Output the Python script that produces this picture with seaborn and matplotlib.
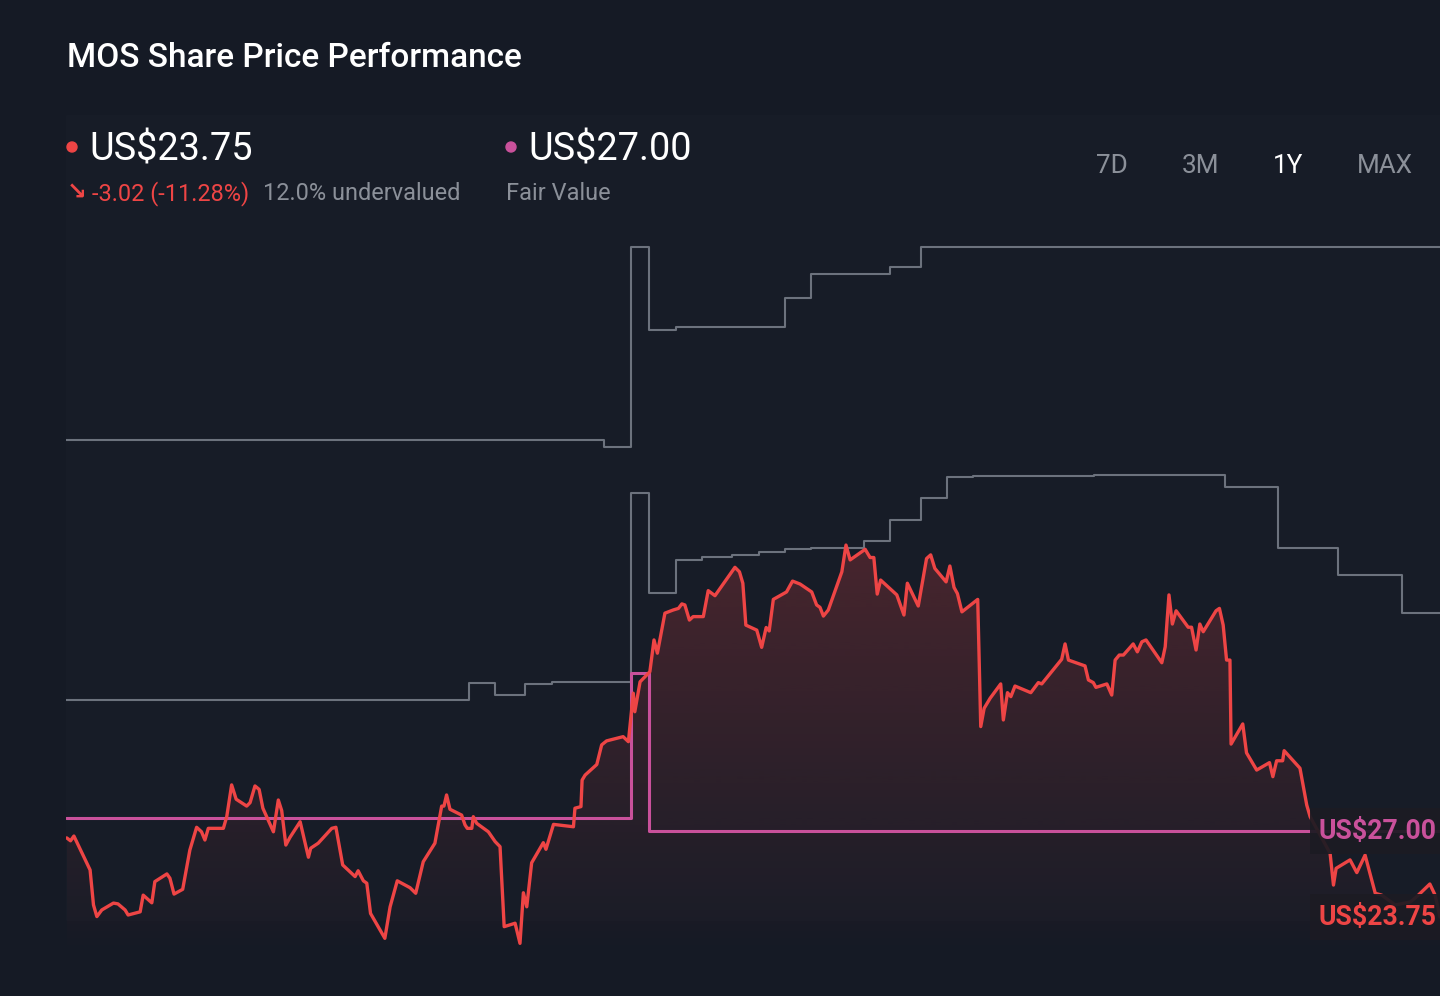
#!/usr/bin/env python3
import numpy as np
import pandas as pd
import matplotlib
matplotlib.use('Agg')
import matplotlib.pyplot as plt
import matplotlib.dates as mdates
import matplotlib.transforms as mtransforms
from matplotlib.colors import to_rgb
from matplotlib.patches import Polygon, Rectangle, Circle
import seaborn as sns

W, H = 1440, 996
BG = '#151a25'
RED = '#ee4545'
PINK = '#c9519b'
GRAY = '#6c727d'
MUTED = '#8b9099'

start = pd.Timestamp('2024-11-14')

# share price (days since start, US$)
price_day = [0.2, 1.2, 2.1, 6.4, 7.3, 8.2, 9.5, 12.6, 13.8, 15.7,
             16.5, 19.7, 20.5, 22.8, 23.6, 26.8, 27.6, 28.7, 31.0, 32.9,
             34.7, 36.0, 36.9, 37.8, 41.8, 42.7, 44.0, 45.2, 48.0, 48.9,
             50.2, 51.3, 52.3, 55.1, 56.4, 57.3, 58.4, 59.5, 62.2, 64.4,
             65.0, 67.0, 70.6, 71.7, 73.5, 76.8, 77.6, 79.0, 79.9, 80.9,
             84.7, 86.1, 88.0, 91.4, 92.9, 94.9, 98.0, 99.8, 100.4, 101.1,
             102.0, 105.1, 106.0, 106.6, 107.8, 108.2, 109.1, 112.2, 114.0, 115.3,
             116.4, 119.3, 120.6, 121.5, 122.4, 123.7, 126.8, 127.5, 129.5, 134.8,
             135.2, 136.8, 137.1, 137.9, 141.0, 142.3, 143.6, 148.0, 149.4, 150.7,
             151.1, 152.5, 155.1, 156.2, 157.1, 159.1, 161.3, 162.7, 163.6, 164.4,
             165.6, 166.6, 169.3, 170.6, 172.4, 177.7, 178.9, 179.8, 180.6, 183.5,
             184.8, 186.0, 186.8, 187.9, 191.4, 193.0, 195.0, 198.1, 199.4, 200.3,
             201.2, 202.5, 206.1, 207.2, 208.3, 212.3, 213.6, 214.6, 215.5, 216.4,
             220.7, 222.6, 223.5, 226.4, 228.6, 229.7, 230.8, 233.8, 234.8, 235.9,
             236.8, 238.0, 242.2, 243.0, 243.9, 245.5, 248.3, 249.0, 250.1, 251.0,
             252.1, 256.3, 258.3, 259.2, 264.5, 265.4, 266.3, 270.7, 271.6, 272.9,
             273.6, 276.5, 277.8, 278.7, 279.8, 280.9, 283.5, 284.6, 285.8, 286.9,
             291.1, 292.0, 293.0, 293.9, 294.9, 298.1, 299.0, 300.2, 301.2, 302.1,
             305.5, 306.4, 307.4, 308.3, 309.2, 309.5, 312.6, 313.6, 316.3, 319.7,
             320.6, 321.6, 323.2, 323.6, 327.8, 329.6, 330.5, 335.8, 336.7, 337.4,
             341.1, 342.9, 345.1, 347.8, 349.5, 353.1, 357.1, 358.8, 362.3, 363.7,
             365.0]
price = [26.74, 26.63, 26.81, 25.53, 24.21, 23.77, 24.02, 24.28, 24.25, 24.02,
         23.83, 23.95, 24.58, 24.29, 25.09, 25.38, 25.22, 24.62, 24.80, 26.28,
         27.14, 26.97, 26.66, 27.10, 27.10, 27.54, 28.74, 28.20, 27.94, 28.07,
         28.70, 28.57, 27.86, 26.97, 28.17, 27.77, 26.47, 26.76, 27.35, 26.01,
         26.35, 26.54, 27.10, 27.14, 25.72, 25.28, 25.50, 25.12, 25.03, 23.89,
         22.95, 24.14, 25.12, 24.86, 24.65, 25.84, 26.54, 27.94, 27.94, 28.36,
         27.82, 27.60, 27.23, 27.10, 27.10, 27.54, 27.29, 26.97, 26.60, 26.41,
         23.39, 23.52, 22.76, 24.67, 24.14, 25.80, 26.56, 26.31, 27.25, 27.16,
         27.86, 27.92, 28.92, 29.11, 29.51, 30.25, 30.40, 30.56, 30.37, 32.20,
         31.50, 32.63, 33.01, 34.21, 33.71, 35.22, 35.34, 35.40, 35.57, 35.53,
         34.96, 35.09, 35.09, 36.07, 35.88, 36.95, 36.78, 36.35, 34.77, 34.58,
         33.93, 34.68, 34.55, 35.74, 36.02, 36.43, 36.32, 36.02, 35.53, 35.44,
         35.11, 35.34, 36.78, 37.79, 37.23, 37.63, 37.32, 37.32, 35.94, 36.47,
         35.91, 35.15, 36.35, 35.49, 37.28, 37.42, 36.91, 36.40, 37.00, 36.19,
         35.96, 35.27, 35.74, 30.94, 31.63, 32.01, 32.55, 31.19, 32.22, 32.07,
         32.47, 32.22, 32.60, 32.55, 33.48, 34.06, 33.45, 33.23, 32.70, 32.60,
         32.42, 32.55, 32.13, 33.45, 33.64, 33.64, 34.06, 33.76, 34.14, 34.21,
         33.35, 33.95, 35.91, 34.81, 35.31, 34.69, 34.69, 33.83, 34.81, 34.52,
         35.31, 35.40, 34.77, 33.45, 33.45, 30.28, 31.04, 29.95, 29.30, 29.58,
         29.05, 29.65, 29.65, 30.03, 29.37, 27.98, 27.54, 26.16, 24.96, 25.59,
         25.91, 25.43, 26.09, 24.65, 24.58, 24.21, 24.32, 24.52, 25.00, 24.58,
         23.75]

# fair value and analyst targets, step changes (days since start, US$)
fair_day = [0, 150, 155, 365]
fair_value = [27.49, 32.96, 27.00, 27.00]

high_day = [0, 143, 150, 155, 162, 191, 198, 219, 227, 365]
high_target = [41.75, 41.49, 49.04, 45.91, 46.02, 47.11, 48.02, 48.28, 49.04, 49.04]

low_day = [0, 107, 114, 122, 129, 150, 155, 162, 169, 177, 184, 191,
           198, 212, 219, 227, 234, 241, 273, 308, 322, 338, 355, 365]
low_target = [31.94, 32.58, 32.13, 32.55, 32.62, 39.75, 35.98, 37.23, 37.34, 37.42, 37.53, 37.64,
              37.68, 37.94, 38.74, 39.57, 40.36, 40.40, 40.43, 39.98, 37.68, 36.66, 35.23, 35.23]

last_price = 23.75
fair_now = 27.00


def frame(days, values):
    return pd.DataFrame({'date': start + pd.to_timedelta(days, unit='D'), 'value': values})


price_df = frame(price_day, price)
fair_df = frame(fair_day, fair_value)
high_df = frame(high_day, high_target)
low_df = frame(low_day, low_target)

sns.set_theme(style='dark', rc={'axes.facecolor': BG, 'figure.facecolor': BG})
plt.rcParams['font.family'] = ['Roboto', 'DejaVu Sans']

fig = plt.figure(figsize=(W / 100, H / 100), dpi=100)
fig.patch.set_facecolor(BG)

# faint card behind the chart
fig.add_artist(Rectangle((66 / W, 1 - 920 / H), 1 - 66 / W, 805 / H,
                         transform=fig.transFigure, color='#171c27', zorder=0))

ax = fig.add_axes([66 / W, 36 / H, 1374 / W, 730 / H])
ax.set_facecolor('none')
ymin, ymax = 27 - 129 / 26.5, 27 + 601 / 26.5

for df, color, lw in [(high_df, GRAY, 1.5), (low_df, GRAY, 1.5), (fair_df, PINK, 2.2)]:
    sns.lineplot(data=df, x='date', y='value', drawstyle='steps-post', color=color,
                 linewidth=lw, estimator=None, ax=ax, zorder=3)

sns.lineplot(data=price_df, x='date', y='value', color=RED, linewidth=2.4,
             estimator=None, ax=ax, zorder=4)

# gradient under the price line
xs = mdates.date2num(price_df['date'])
ys = price_df['value'].to_numpy()
verts = [(xs[0], ymin)] + list(zip(xs, ys)) + [(xs[-1], ymin)]
poly = Polygon(verts, closed=True, facecolor='none', edgecolor='none')
ax.add_patch(poly)
rgba = np.zeros((256, 1, 4))
rgba[..., :3] = to_rgb(RED)
rgba[..., 3] = np.linspace(0.0, 0.23, 256)[:, None]
im = ax.imshow(rgba, extent=[xs[0], xs[-1], ymin, ys.max()], origin='lower',
               aspect='auto', zorder=2, interpolation='bilinear')
im.set_clip_path(poly)

ax.set_xlim(start, start + pd.Timedelta(days=365))
ax.set_ylim(ymin, ymax)
ax.set(xlabel=None, ylabel=None, xticks=[], yticks=[])
for s in ax.spines.values():
    s.set_visible(False)

# value tags at the right edge
trans = mtransforms.blended_transform_factory(ax.transAxes, ax.transData)
for val, color in [(fair_now, PINK), (last_price, RED)]:
    ax.text((1319 - 66) / 1374, val, f'US${val:.2f}', transform=trans, color=color,
            fontsize=19.2, fontweight='bold', va='center', ha='left', clip_on=False, zorder=6,
            bbox=dict(boxstyle='square,pad=0.35', fc='#1c1b23', ec='none', alpha=0.93))


def ftext(x, y, s, **kw):
    fig.text(x / W, 1 - y / H, s, **kw)


ftext(67, 67, 'MOS Share Price Performance', color='white', fontsize=24, fontweight=500)

fig.add_artist(Circle((72 / 100, (H - 147) / 100), 0.05, transform=fig.dpi_scale_trans, color=RED))
fig.add_artist(Circle((511 / 100, (H - 147) / 100), 0.05, transform=fig.dpi_scale_trans, color=PINK))
ftext(89, 160, f'US${last_price:.2f}', color='white', fontsize=27.3)
ftext(528, 160, f'US${fair_now:.2f}', color='white', fontsize=27.3)

ftext(67, 200, '\u2198', color=RED, fontsize=17, family=['DejaVu Sans'], fontweight='bold')
ftext(92, 200, '-3.02 (-11.28%)', color=RED, fontsize=16.9)
ftext(263, 200, '12.0% undervalued', color=MUTED, fontsize=16.9)
ftext(506, 200, 'Fair Value', color=MUTED, fontsize=16.9)

for x, lab in [(1096, '7D'), (1182, '3M'), (1273, '1Y'), (1357, 'MAX')]:
    ftext(x, 173, lab, color='white' if lab == '1Y' else MUTED, fontsize=18.8)

plt.savefig('out.png', dpi=100, facecolor=BG)
